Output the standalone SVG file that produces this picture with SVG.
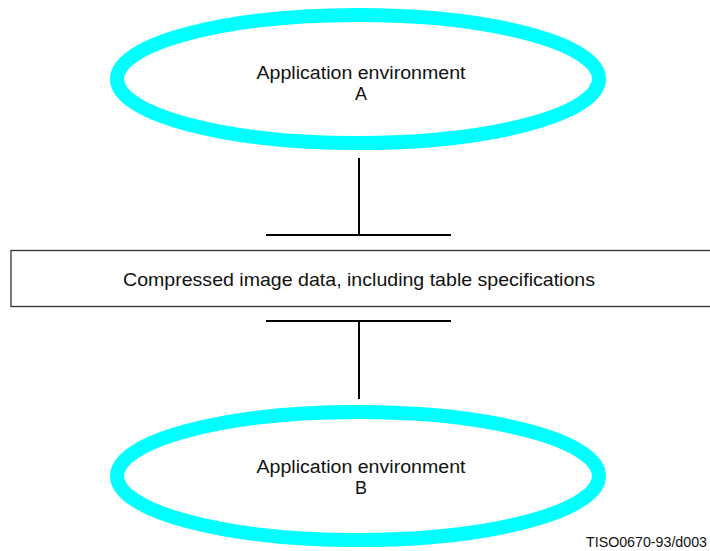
<svg xmlns="http://www.w3.org/2000/svg" width="710" height="551" viewBox="0 0 710 551">
<style>
.env{fill:none;stroke:#00FFFF;stroke-width:14}
.box{fill:#fff;stroke:#333;stroke-width:1.3}
.ln{stroke:#000;stroke-width:2;fill:none}
.t{font-family:"Liberation Sans",Arial,sans-serif;fill:#111;text-anchor:middle}
</style>
<rect width="710" height="551" fill="#fff"/>
<g id="envA">
<ellipse class="env" cx="358" cy="79" rx="241" ry="64"/>
<text class="t" x="361" y="78.5" font-size="18" textLength="209" lengthAdjust="spacingAndGlyphs">Application environment</text>
<text class="t" x="361" y="99.5" font-size="18">A</text>
</g>
<g id="data">
<rect class="box" x="11" y="250.5" width="710" height="56"/>
<text class="t" x="359" y="286" font-size="18.5" textLength="472" lengthAdjust="spacingAndGlyphs">Compressed image data, including table specifications</text>
</g>
<g id="envB">
<ellipse class="env" cx="358" cy="476" rx="241" ry="64"/>
<text class="t" x="361" y="472.5" font-size="18" textLength="209" lengthAdjust="spacingAndGlyphs">Application environment</text>
<text class="t" x="361" y="494" font-size="18">B</text>
</g>
<g id="connectors">
<line class="ln" x1="359" y1="158" x2="359" y2="235"/>
<line class="ln" x1="266" y1="235" x2="451" y2="235"/>
<line class="ln" x1="266" y1="321" x2="451" y2="321"/>
<line class="ln" x1="359" y1="321" x2="359" y2="399"/>
</g>
<text class="t" x="646.5" y="546.5" font-size="14.5" textLength="121" lengthAdjust="spacingAndGlyphs">TISO0670-93/d003</text>
</svg>
